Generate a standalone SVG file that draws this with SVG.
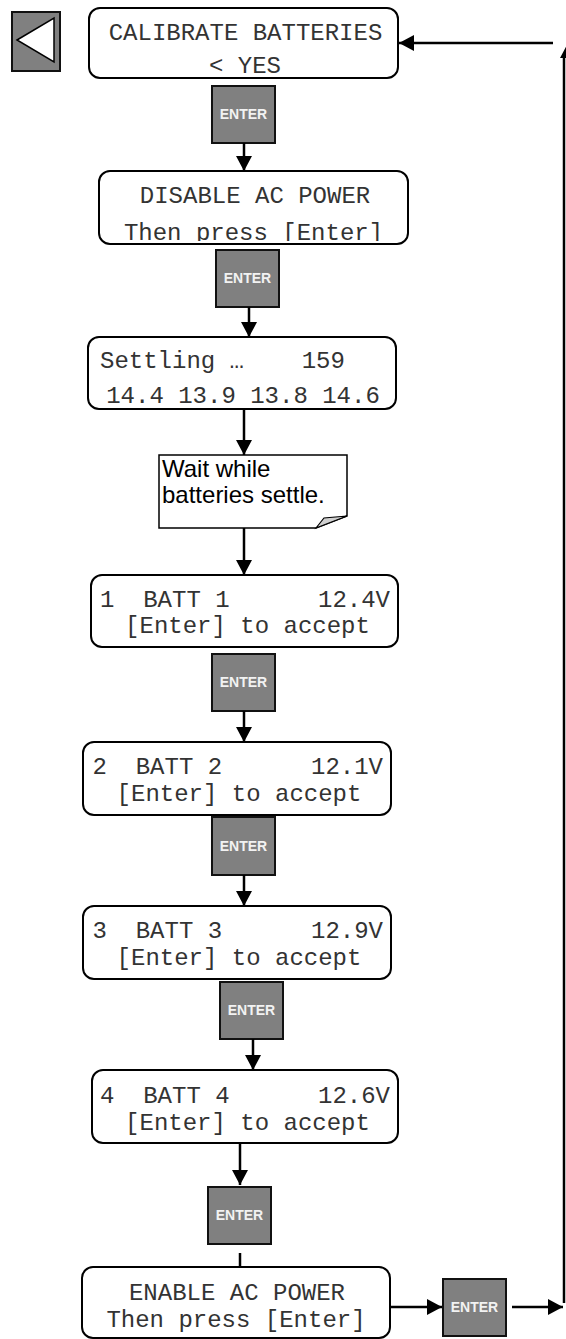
<svg xmlns="http://www.w3.org/2000/svg" width="566" height="1339" viewBox="0 0 566 1339">
<style>
.box{fill:#fff;stroke:#000;stroke-width:2}
.btn{fill:#808080;stroke:#111;stroke-width:2}
.btxt{font-family:"Liberation Sans",Arial,sans-serif;font-weight:bold;font-size:14px;fill:#f2f2f2;text-anchor:middle}
.mono{font-family:"Liberation Mono","Courier New",monospace;font-size:24px;fill:#333;white-space:pre}
.mid{text-anchor:middle}
.end{text-anchor:end}
.note{font-family:"Liberation Sans",Arial,sans-serif;font-size:24px;fill:#000}
.ln{stroke:#000;stroke-width:2.5;fill:none}
.arr{marker-end:url(#ah)}
</style>
<defs>
<marker id="ah" viewBox="0 0 15 16" refX="15" refY="8" markerWidth="15" markerHeight="16" markerUnits="userSpaceOnUse" orient="auto">
<path d="M0,0 L15,8 L0,16 z" fill="#000"/>
</marker>
<clipPath id="clipDis"><rect x="99" y="171" width="309" height="70"/></clipPath>
</defs>

<g id="back">
<rect class="btn" x="12" y="12" width="48" height="59"/>
<polygon points="17,40 54,18 54,62" fill="#fff" stroke="#000" stroke-width="1.5"/>
</g>

<g id="n1">
<rect class="box" x="89" y="8" width="309" height="70" rx="11"/>
<text class="mono mid" x="245.5" y="40">CALIBRATE BATTERIES</text>
<text class="mono mid" x="245" y="73">&lt; YES</text>
</g>
<g id="b1"><rect class="btn" x="212" y="86" width="63" height="57"/><text class="btxt" x="243.5" y="119">ENTER</text></g>

<g id="n2">
<rect class="box" x="99" y="171" width="309" height="73" rx="11"/>
<text class="mono mid" x="255" y="203">DISABLE AC POWER</text>
<text class="mono mid" x="253.5" y="240" clip-path="url(#clipDis)">Then press [Enter]</text>
</g>
<g id="b2"><rect class="btn" x="216" y="250" width="63" height="57"/><text class="btxt" x="247.5" y="283">ENTER</text></g>

<g id="n3">
<rect class="box" x="88" y="337" width="308" height="72" rx="11"/>
<text class="mono" x="100" y="368" xml:space="preserve">Settling …    159</text>
<text class="mono mid" x="243" y="403">14.4 13.9 13.8 14.6</text>
</g>

<g id="note">
<path d="M159,455 H347 V516 L316,528 H159 Z" fill="#fff" stroke="#000" stroke-width="1.5"/>
<path d="M316,528 L324,518 L347,516 Z" fill="#d0d0d0" stroke="#000" stroke-width="1.2"/>
<text class="note" x="162" y="477">Wait while</text>
<text class="note" x="162" y="503">batteries settle.</text>
</g>

<g id="n4">
<rect class="box" x="91" y="575" width="307" height="72" rx="11"/>
<text class="mono" x="100" y="607">1  BATT 1</text>
<text class="mono end" x="390" y="607">12.4V</text>
<text class="mono mid" x="247.5" y="633">[Enter] to accept</text>
</g>
<g id="b3"><rect class="btn" x="212" y="654" width="63" height="57"/><text class="btxt" x="243.5" y="687">ENTER</text></g>

<g id="n5">
<rect class="box" x="83" y="742" width="308" height="73" rx="11"/>
<text class="mono" x="92.5" y="774">2  BATT 2</text>
<text class="mono end" x="383" y="774">12.1V</text>
<text class="mono mid" x="239" y="801">[Enter] to accept</text>
</g>
<g id="b4"><rect class="btn" x="212" y="817" width="63" height="58"/><text class="btxt" x="243.5" y="851">ENTER</text></g>

<g id="n6">
<rect class="box" x="83" y="906" width="308" height="73" rx="11"/>
<text class="mono" x="92.5" y="938">3  BATT 3</text>
<text class="mono end" x="383" y="938">12.9V</text>
<text class="mono mid" x="239" y="965">[Enter] to accept</text>
</g>
<g id="b5"><rect class="btn" x="220" y="982" width="63" height="57"/><text class="btxt" x="251.5" y="1015">ENTER</text></g>

<g id="n7">
<rect class="box" x="92" y="1070" width="306" height="73" rx="11"/>
<text class="mono" x="100" y="1103">4  BATT 4</text>
<text class="mono end" x="390" y="1103">12.6V</text>
<text class="mono mid" x="247.5" y="1130">[Enter] to accept</text>
</g>
<g id="b6"><rect class="btn" x="208" y="1187" width="63" height="57"/><text class="btxt" x="239.5" y="1220">ENTER</text></g>

<g id="n8">
<rect class="box" x="82" y="1267" width="308" height="71" rx="11"/>
<text class="mono mid" x="237" y="1300">ENABLE AC POWER</text>
<text class="mono mid" x="236" y="1327">Then press [Enter]</text>
</g>
<g id="b7"><rect class="btn" x="443" y="1279" width="63" height="57"/><text class="btxt" x="474.5" y="1312">ENTER</text></g>

<g id="connectors">
<line class="ln arr" x1="244" y1="143" x2="244" y2="171"/>
<line class="ln arr" x1="249" y1="307" x2="249" y2="337"/>
<line class="ln arr" x1="244" y1="409" x2="244" y2="455"/>
<line class="ln arr" x1="244" y1="528" x2="244" y2="575"/>
<line class="ln arr" x1="244" y1="711" x2="244" y2="742"/>
<line class="ln arr" x1="244" y1="875" x2="244" y2="906"/>
<line class="ln arr" x1="253" y1="1039" x2="253" y2="1070"/>
<line class="ln arr" x1="240" y1="1143" x2="240" y2="1185"/>
<line class="ln" x1="240" y1="1253" x2="240" y2="1267"/>
<line class="ln arr" x1="390" y1="1307" x2="442" y2="1307"/>
<line class="ln arr" x1="512" y1="1307" x2="563" y2="1307"/>
<line class="ln" x1="564" y1="1303" x2="564" y2="57"/>
<polygon points="560,58 567,45 574,58" fill="#000"/>
<line class="ln arr" x1="553" y1="43" x2="399" y2="43"/>
</g>
</svg>
